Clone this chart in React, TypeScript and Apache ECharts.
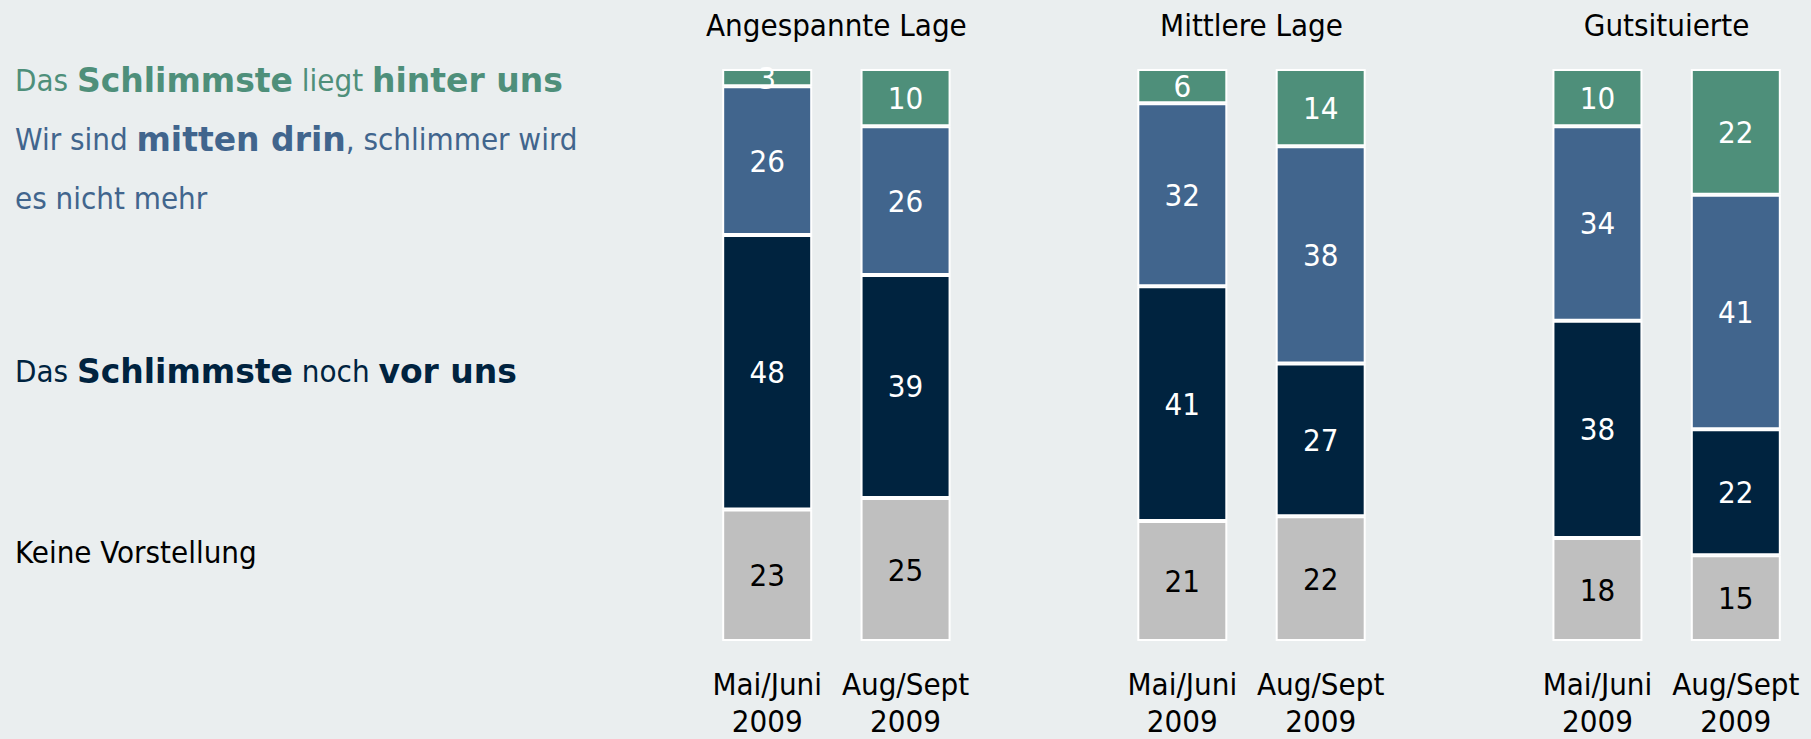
import React, { useEffect, useRef } from "react";
import * as echarts from "echarts";

const groups = ["Angespannte Lage", "Mittlere Lage", "Gutsituierte"];
const periods = ["Mai/Juni\n2009", "Aug/Sept\n2009"];

// values per bar, in order: Angespannte (Mai, Aug), Mittlere (Mai, Aug), Gutsituierte (Mai, Aug)
const keineVorstellung = [23, 25, 21, 21.8, 18, 15];
const vorUns = [48, 39, 41, 26.7, 38, 22];
const mittenDrin = [26, 26, 32, 38, 34, 41];
const hinterUns = [3, 10, 6, 13.5, 10, 22];

const seriesNames = [
  "Keine Vorstellung",
  "Das Schlimmste noch vor uns",
  "Wir sind mitten drin, schlimmer wird es nicht mehr",
  "Das Schlimmste liegt hinter uns",
];

const legendLines = [
  { text: "{r|Das }{b|Schlimmste}{r| liegt }{b|hinter uns}", color: "#4E8F7A", y: 80 },
  { text: "{r|Wir sind }{b|mitten drin}{r|, schlimmer wird}", color: "#41658D", y: 139 },
  { text: "{r|es nicht mehr}", color: "#41658D", y: 198 },
  { text: "{r|Das }{b|Schlimmste}{r| noch }{b|vor uns}", color: "#00233F", y: 371 },
  { text: "{r|Keine Vorstellung}", color: "#000000", y: 552 },
];

const COLORS = ["#BFBFBF", "#00233F", "#41658D", "#4E8F7A"];
const LABEL_COLORS = ["#000000", "#ffffff", "#ffffff", "#ffffff"];
const FONT = '"DejaVu Sans Condensed", "DejaVu Sans", sans-serif';
const BOLD_FONT = '"DejaVu Sans", sans-serif';

// Build category slots with an empty slot between groups
const categories: string[] = [];
const categoryLabels: string[] = [];
const barSlots: number[] = [];
groups.forEach((g, gi) => {
  periods.forEach((p) => {
    barSlots.push(categories.length);
    categories.push(g + "|" + p);
    categoryLabels.push(p);
  });
  if (gi < groups.length - 1) {
    categories.push("gap" + gi);
    categoryLabels.push("");
  }
});

function spread(values: number[]) {
  const out: (number | string)[] = categories.map(() => "-");
  values.forEach((v, i) => {
    out[barSlots[i]] = v;
  });
  return out;
}

export default function App() {
  const ref = useRef<HTMLDivElement>(null);
  useEffect(() => {
    document.body.style.margin = "0";
    const chart = echarts.init(ref.current!, null, { renderer: "svg" });
    const data = [keineVorstellung, vorUns, mittenDrin, hinterUns];
    chart.setOption({
      animation: false,
      backgroundColor: "#EAEEEF",
      grid: { left: 698, width: 1107, top: 69, bottom: 95, containLabel: false },
      xAxis: {
        type: "category",
        data: categories,
        axisLine: { show: false },
        axisTick: { show: false },
        axisLabel: {
          interval: 0,
          margin: 24,
          fontSize: 31,
          lineHeight: 37,
          color: "#000",
          fontFamily: FONT,
          formatter: (_v: string, idx: number) => categoryLabels[idx],
        },
      },
      yAxis: {
        type: "value",
        min: 0,
        max: 100,
        show: false,
        splitLine: { show: false },
      },
      series: data.map((vals, si) => ({
        name: seriesNames[si],
        type: "bar",
        stack: "total",
        barWidth: 90,
        data: spread(vals),
        itemStyle: { color: COLORS[si], borderColor: "#ffffff", borderWidth: 2 },
        label: {
          show: true,
          position: "inside",
          fontSize: 31,
          fontFamily: FONT,
          color: LABEL_COLORS[si],
          formatter: (p: any) => String(Math.round(p.value)),
        },
      })),
    });

    const titleGraphics = groups.map((g, gi) => {
      const a = chart.convertToPixel({ xAxisIndex: 0 }, categories[barSlots[gi * 2]]) as number;
      const b = chart.convertToPixel({ xAxisIndex: 0 }, categories[barSlots[gi * 2 + 1]]) as number;
      return {
        type: "text",
        x: (a + b) / 2,
        y: 25,
        style: {
          text: g,
          fontSize: 31,
          fontFamily: FONT,
          fill: "#000",
          align: "center",
          verticalAlign: "middle",
        },
      };
    });

    const legendGraphics = legendLines.map((l) => ({
      type: "text",
      x: 15,
      y: l.y,
      style: {
        text: l.text,
        align: "left",
        verticalAlign: "middle",
        rich: {
          r: { fontSize: 31, fontFamily: FONT, fill: l.color, color: l.color },
          b: { fontSize: 33, fontFamily: BOLD_FONT, fontWeight: "bold", fill: l.color, color: l.color },
        },
      },
    }));

    chart.setOption({ graphic: [...titleGraphics, ...legendGraphics] });
    return () => chart.dispose();
  }, []);
  return (
    <div
      ref={ref}
      style={{ position: "fixed", left: 0, top: 0, width: 1811, height: 739 }}
    />
  );
}
